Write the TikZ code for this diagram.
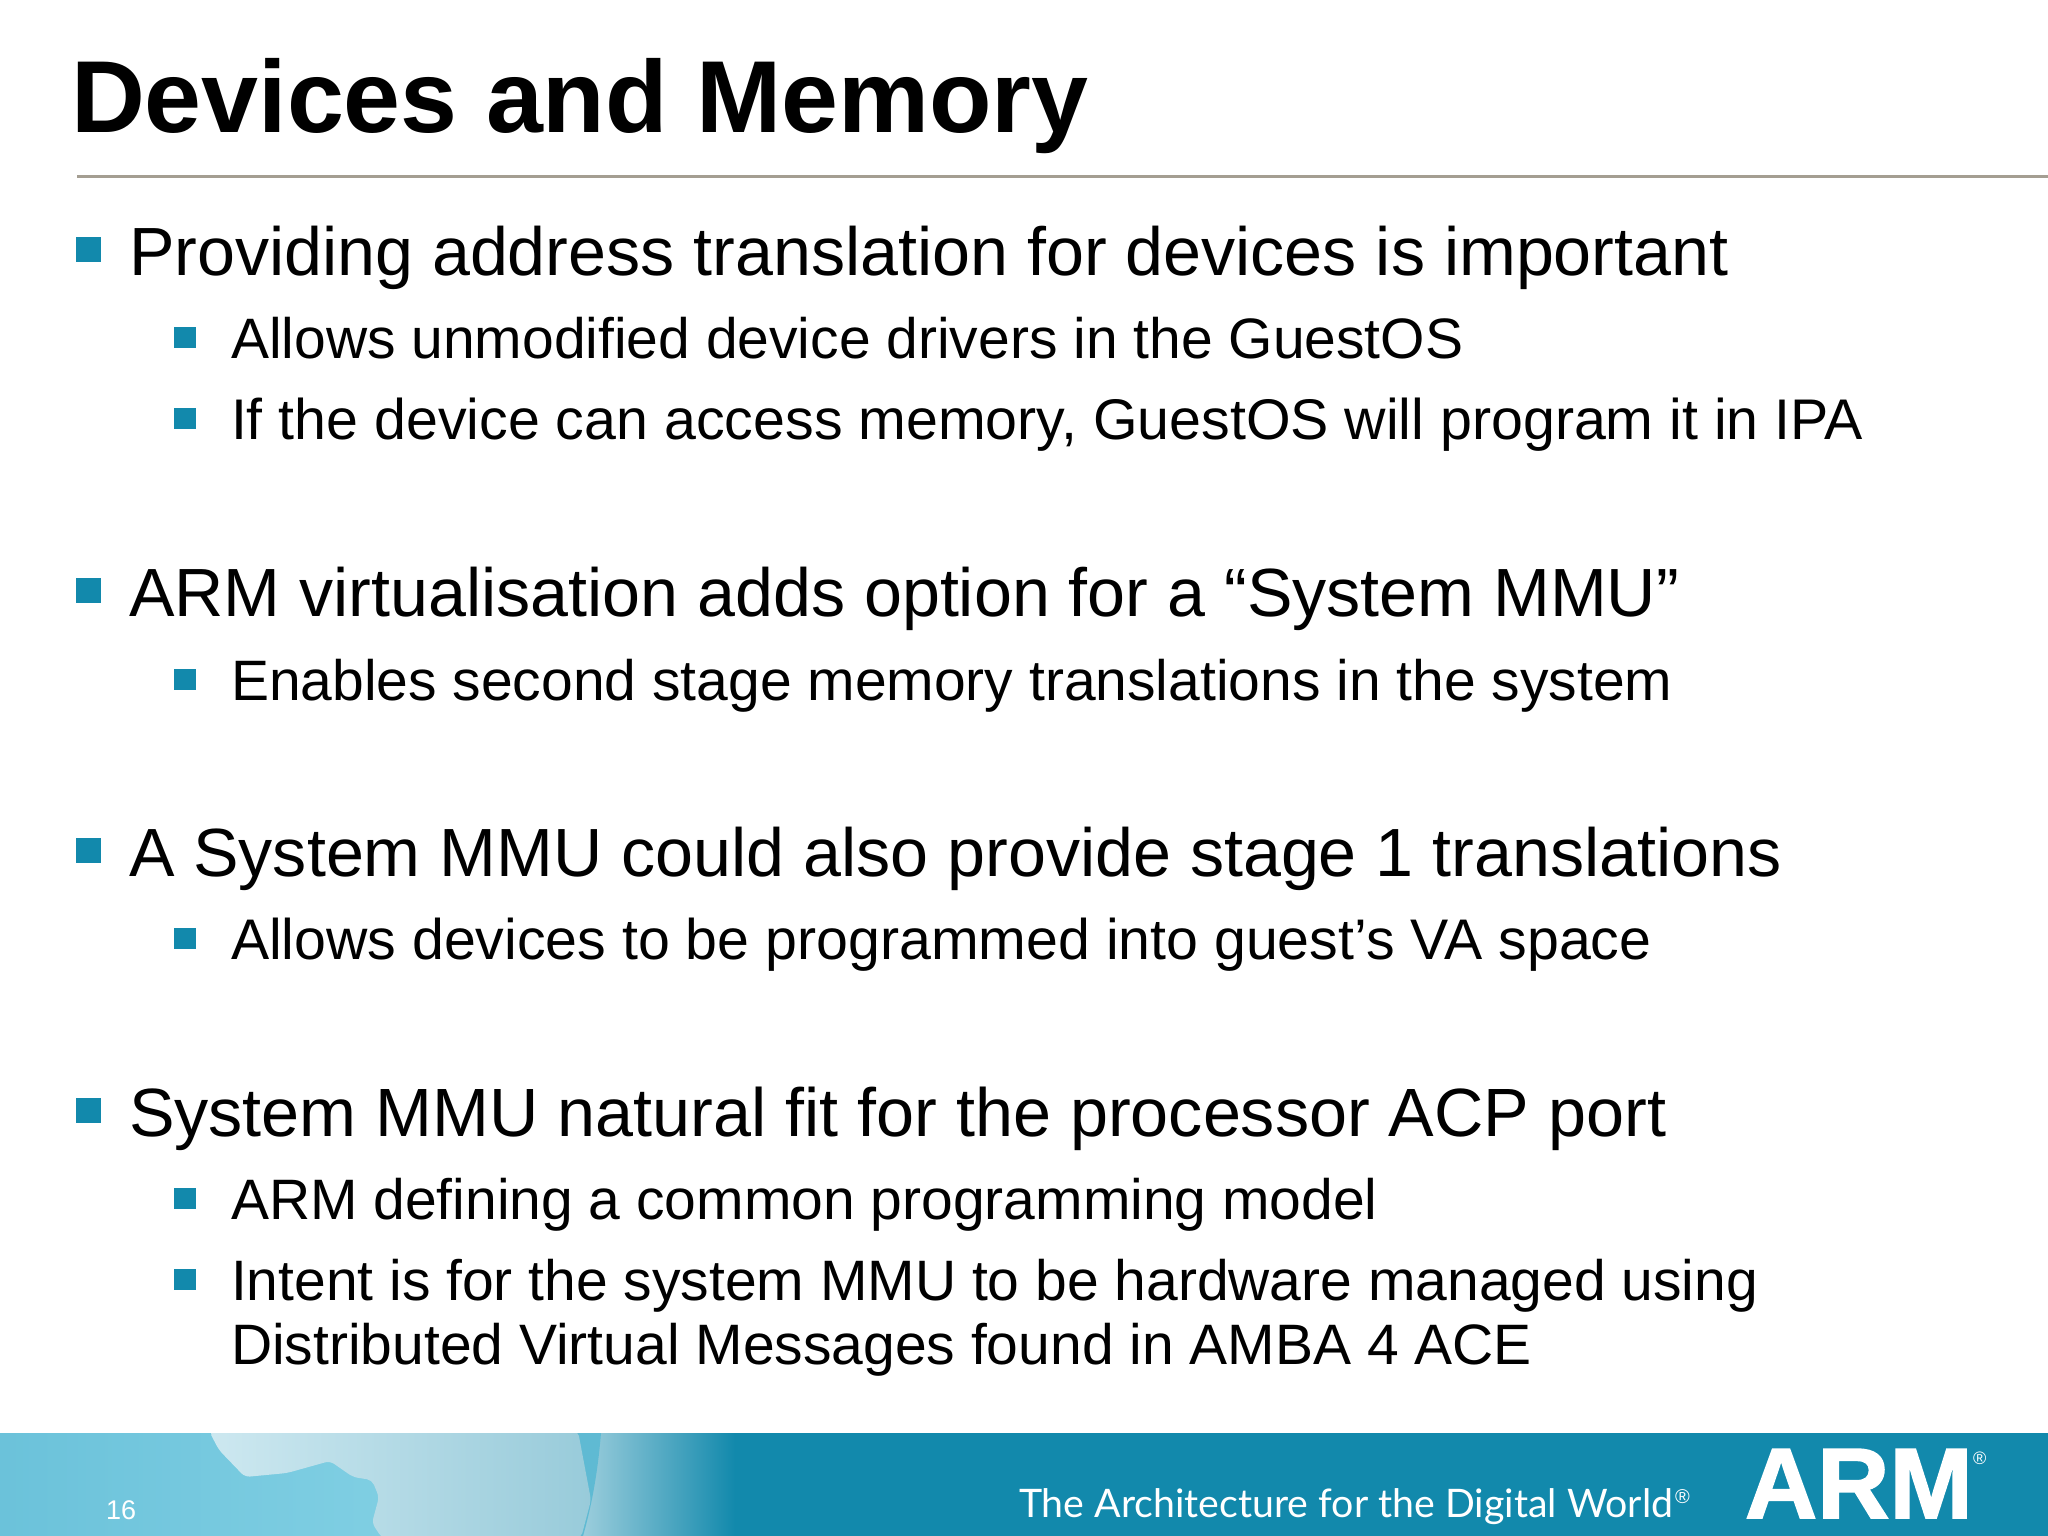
\documentclass[tikz,border=0pt]{standalone}
\usepackage{fontspec}
\setmainfont{Liberation Sans}[Ligatures={NoCommon}]
\newfontfamily\tagfont{Lato}
\newfontfamily\armfont{Liberation Sans Bold}[FakeBold=1.6]
\definecolor{armblue}{HTML}{1289AC}
\definecolor{rulegrey}{HTML}{A49E92}
\definecolor{seablue}{HTML}{6BC2DA}
\definecolor{seapale}{HTML}{80CFE3}
\definecolor{landa}{HTML}{CDE8F0}
\definecolor{landb}{HTML}{BBDDE7}
\definecolor{landc}{HTML}{98CBDA}
\definecolor{rimblue}{HTML}{5FBAD3}
\tikzset{
  txt/.style={anchor=base west,inner sep=0pt,outer sep=0pt,text=black},
  ttl/.style={txt,font=\fontsize{102.3}{102.3}\selectfont\bfseries},
  lone/.style={txt,font=\fontsize{68.2}{68.2}\selectfont},
  ltwo/.style={txt,font=\fontsize{57}{57}\selectfont},
  bul/.style={fill=armblue,draw=none},
  foot/.style={anchor=base west,inner sep=0pt,outer sep=0pt,text=white},
}
\begin{document}
\begin{tikzpicture}[x=1pt,y=-1pt]
\useasboundingbox (0,0) rectangle (2048,1536);
\fill[white] (0,0) rectangle (2048,1536);
% title
\node[ttl] (title) at (71,132) {Devices and Memory};
\coordinate (ruleL) at (77,176);
\coordinate (ruleR) at (2048,176);
\draw[rulegrey,line width=3pt] (ruleL) -- (ruleR);
% level one
\fill[bul] (76,237) rectangle (101,262);
\node[lone] (a1) at (129,275) {Providing address translation for devices is important};
\fill[bul] (76,578) rectangle (101,603);
\node[lone] (b1) at (129,616) {ARM virtualisation adds option for a “System MMU”};
\fill[bul] (76,838) rectangle (101,863);
\node[lone] (c1) at (129,876) {A System MMU could also provide stage 1 translations};
\fill[bul] (76,1098) rectangle (101,1123);
\node[lone,font=\fontsize{68.3}{68.3}\selectfont] (d1) at (129,1136) {System MMU natural fit for the processor ACP port};
% level two
\fill[bul] (174,327) rectangle (196,348);
\node[ltwo] (a2) at (231,358) {Allows unmodified device drivers in the GuestOS};
\fill[bul] (174,408) rectangle (196,429);
\node[ltwo,font=\fontsize{57.32}{57.32}\selectfont] (a3) at (231,439) {If the device can access memory, GuestOS will program it in IPA};
\fill[bul] (174,669) rectangle (196,690);
\node[ltwo] (b2) at (231,700) {Enables second stage memory translations in the system};
\fill[bul] (174,928) rectangle (196,949);
\node[ltwo,font=\fontsize{57.26}{57.26}\selectfont] (c2) at (231,959) {Allows devices to be programmed into guest’s VA space};
\fill[bul] (174,1188) rectangle (196,1209);
\node[ltwo] (d2) at (231,1219) {ARM defining a common programming model};
\fill[bul] (174,1269) rectangle (196,1290);
\node[ltwo] (d3) at (231,1300) {Intent is for the system MMU to be hardware managed using};
\node[ltwo] (d4) at (231,1364) {Distributed Virtual Messages found in AMBA 4 ACE};
% footer band
\fill[armblue] (0,1433) rectangle (2048,1536);
\shade[left color=white!58!armblue,right color=armblue] (583,1433) rectangle (735,1536);
\begin{scope}
\clip (0,1433) -- (601,1433) .. controls (598,1470) and (592,1505) .. (583,1536) -- (0,1536) -- cycle;
\shade[left color=seablue,right color=seapale] (0,1433) rectangle (400,1536);
\fill[rimblue] (400,1433) rectangle (610,1536);
\shade[left color=landa,middle color=landb,right color=landc,rounded corners=5pt]
  (209,1431) -- (219,1450) -- (245,1477) -- (287,1473) -- (330,1461) -- (353,1477) -- (372,1480) -- (379,1497) -- (372,1523) -- (382,1538) -- (581,1538) -- (591,1500) -- (578,1431) -- cycle;
\end{scope}
\node[foot,font=\fontsize{27}{27}\selectfont] (pg) at (106,1519) {16};
\node[foot,font=\fontsize{39.3}{39.3}\tagfont] (tag) at (1019,1517) {The Architecture for the Digital World};
\node[foot,font=\fontsize{20}{20}\selectfont] (tagr) at (1675,1503) {®};
\node[foot,font=\fontsize{100}{100}\armfont] (arm) at (1745,1518) {ARM};
\node[foot,font=\fontsize{18}{18}\selectfont] (armr) at (1973,1464) {®};
\end{tikzpicture}
\end{document}
